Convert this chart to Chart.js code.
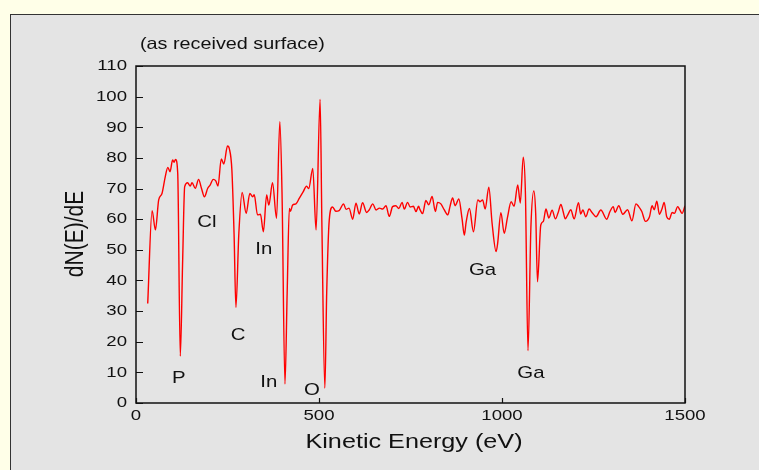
<!DOCTYPE html>
<html>
<head>
<meta charset="utf-8">
<script src="https://cdn.jsdelivr.net/npm/chart.js@4"></script>
<style>
  body { margin: 0; background: #ffffe8; width: 759px; height: 470px; overflow: hidden; position: relative; }
  #panel { position: absolute; left: 10px; top: 14px; width: 780px; height: 480px; background: #e4e4e4; border: 1px solid #333; }
  #chart { position: absolute; left: 0; top: 0; }
</style>
</head>
<body>
<div id="panel"></div>
<canvas id="chart" width="759" height="470"></canvas>
<script>
// spectrum
const energy = [32, 44, 53, 62, 71, 80, 87, 93, 100, 104, 108, 114, 121, 127.5, 133, 141, 148, 153, 162, 171, 179, 187, 196, 202, 211, 218, 224, 233, 240, 250, 255, 262, 268, 273, 281, 290,
  301, 311, 319, 323, 332, 340, 348, 357, 363, 373, 384, 393, 399, 407, 413, 419, 422, 428, 437, 446, 457, 466, 472, 483, 492, 503, 508, 516, 521, 528, 537, 546, 555, 567, 574, 582, 592,
  601, 610, 619, 630, 637, 647, 656, 665, 674, 683, 692, 701, 710, 718, 727, 733, 742, 749, 758, 765, 772, 776, 783, 792, 800, 809, 818, 824, 833, 842, 852, 858, 865, 872, 882, 891, 897,
  902, 911, 922, 934, 940, 947, 954, 964, 973, 984, 988, 997, 1006, 1015, 1025, 1033, 1043, 1050, 1058, 1064, 1071, 1079, 1087, 1092, 1097, 1106, 1113, 1120, 1128, 1137, 1146, 1153, 1161, 1167, 1173, 1180, 1188, 1197,
  1209, 1215, 1221, 1229, 1238, 1246, 1257, 1270, 1286, 1295, 1304, 1309, 1319, 1330, 1343, 1355, 1366, 1373, 1382, 1392, 1403, 1410, 1416, 1423, 1430, 1437, 1443, 1450, 1457, 1465, 1471, 1480, 1486, 1492, 1500];
const dNdE = [32.5, 62.8, 56.5, 66.3, 68.4, 73.9, 76.9, 75.5, 79.3, 78.6, 79.5, 75, 15.3, 46.7, 70.6, 71.9, 70.8, 71.9, 70.1, 73, 70, 67.3, 70.1, 71, 73, 72.5, 70.8, 79.7, 78, 83.9, 83, 76, 55, 31.2, 55.4, 68.7,
  61.9, 68.4, 67.3, 68, 61.4, 61.6, 55.9, 67.9, 64.6, 71.9, 60.3, 91.8, 68.4, 6.2, 35.8, 63.5, 62.6, 64.6, 65, 66.8, 69, 70.8, 70, 76.6, 56.5, 99.1, 57.5, 4.8, 35.8, 59.7, 64, 62.6, 62.8, 65, 63.2, 63.6, 60,
  65.2, 61.7, 65.4, 62.2, 63, 65, 63, 63.6, 63.3, 64.4, 60.9, 64.1, 64.4, 63.5, 65.5, 63.3, 65.5, 64, 64.2, 62.5, 64.2, 63.1, 61.8, 66.1, 64.7, 67.4, 62.5, 65.5, 65, 63.1, 61.4, 64.2, 66.9, 64.4, 66.6, 60, 54.8,
  59, 63.5, 55.9, 66.3, 65.7, 66.3, 63.3, 70.4, 58.6, 49.4, 52, 62.1, 55.4, 60.6, 65.7, 64.2, 71.2, 65.3, 80.2, 68.4, 17.1, 57.5, 69.2, 62, 39.6, 58.1, 59.3, 63.3, 60.4, 62.9, 60.1, 62, 64.8, 62.5, 60.1, 61.5, 63.1, 60.1,
  65.4, 61.7, 63, 60.8, 63.3, 62.2, 60.8, 63, 60, 62.5, 64.1, 62.2, 64.4, 61.6, 63.1, 59.5, 65, 64.2, 62.5, 59.3, 60.8, 64.4, 63.1, 65.9, 61.6, 63.3, 65.5, 60.8, 60, 62.2, 61.9, 64.1, 63, 61.9, 64.4];

// ticks
const xTicks = [0, 500, 1000, 1500];
const yTicks = [0, 10, 20, 30, 40, 50, 60, 70, 80, 90, 100, 110];

// element labels (text, eV, value at baseline)
const peakNames = ['Cl', 'In', 'C', 'P', 'In', 'O', 'Ga', 'Ga'];
const peakX = [194, 349, 279, 117, 363, 481, 947, 1079];
const peakY = [57.4, 48.6, 20.6, 6.6, 5.2, 2.6, 41.8, 8.1];

const FONT = '"Liberation Sans", Arial, sans-serif';
const SX = 1.2; // text in the picture is a bit wide

function stretchedText(ctx, text, x, y, size, align) {
    ctx.save();
    ctx.font = size + 'px ' + FONT;
    ctx.textAlign = align;
    ctx.translate(x, y);
    ctx.scale(SX, 1);
    ctx.fillText(text, 0, 0);
    ctx.restore();
}

const decor = {
    id: 'decor',
    afterDraw(chart) {
        const ctx = chart.ctx;
        const xs = chart.scales.x;
        const ys = chart.scales.y;
        const a = chart.chartArea;

        ctx.save();
        ctx.strokeStyle = '#111';
        ctx.lineWidth = 1.5;
        ctx.strokeRect(a.left, a.top, a.right - a.left, a.bottom - a.top);

        // inward tick marks
        ctx.lineWidth = 1.2;
        ctx.beginPath();
        yTicks.forEach(v => {
            const py = Math.round(ys.getPixelForValue(v)) + 0.5;
            ctx.moveTo(a.left, py);
            ctx.lineTo(a.left + 7, py);
        });
        xTicks.forEach(v => {
            const px = Math.round(xs.getPixelForValue(v)) + 0.5;
            ctx.moveTo(px, a.bottom);
            ctx.lineTo(px, a.bottom - 5);
        });
        ctx.stroke();

        ctx.fillStyle = '#111';
        ctx.textBaseline = 'middle';
        yTicks.forEach(v => stretchedText(ctx, String(v), a.left - 9 - 0, ys.getPixelForValue(v), 15.5, 'right'));
        ctx.textBaseline = 'alphabetic';
        xTicks.forEach(v => stretchedText(ctx, String(v), xs.getPixelForValue(v), a.bottom + 17, 15.5, 'center'));

        peakNames.forEach((n, i) => {
            stretchedText(ctx, n, xs.getPixelForValue(peakX[i]), ys.getPixelForValue(peakY[i]), 17, 'center');
        });

        stretchedText(ctx, '(as received surface)', 140, 49, 16.5, 'left');
        stretchedText(ctx, 'Kinetic Energy (eV)', 414, 448, 21, 'center');

        // y title, rotated
        ctx.save();
        ctx.translate(83, 234);
        ctx.scale(SX, 1);
        ctx.rotate(-Math.PI / 2);
        ctx.font = '21px ' + FONT;
        ctx.textAlign = 'center';
        ctx.fillText('dN(E)/dE', 0, 0);
        ctx.restore();

        ctx.restore();
    }
};

const ctx = document.getElementById('chart').getContext('2d');
new Chart(ctx, {
    type: 'line',
    data: {
        datasets: [{
            data: energy.map((e, i) => ({x: e, y: dNdE[i]})),
            borderColor: '#ff0000',
            borderWidth: 1.4,
            pointRadius: 0,
            cubicInterpolationMode: 'monotone',
            fill: false
        }]
    },
    options: {
        responsive: false,
        animation: false,
        layout: { padding: { left: 136, top: 66, right: 74, bottom: 67 } },
        plugins: { legend: { display: false }, tooltip: { enabled: false }, title: { display: false } },
        scales: {
            x: {
                type: 'linear', min: 0, max: 1500,
                grid: { display: false }, border: { display: false },
                ticks: { display: false },
                afterFit(s) { s.height = 0; }
            },
            y: {
                min: 0, max: 110,
                grid: { display: false }, border: { display: false },
                ticks: { display: false },
                afterFit(s) { s.width = 0; }
            }
        }
    },
    plugins: [decor]
});
</script>
</body>
</html>
